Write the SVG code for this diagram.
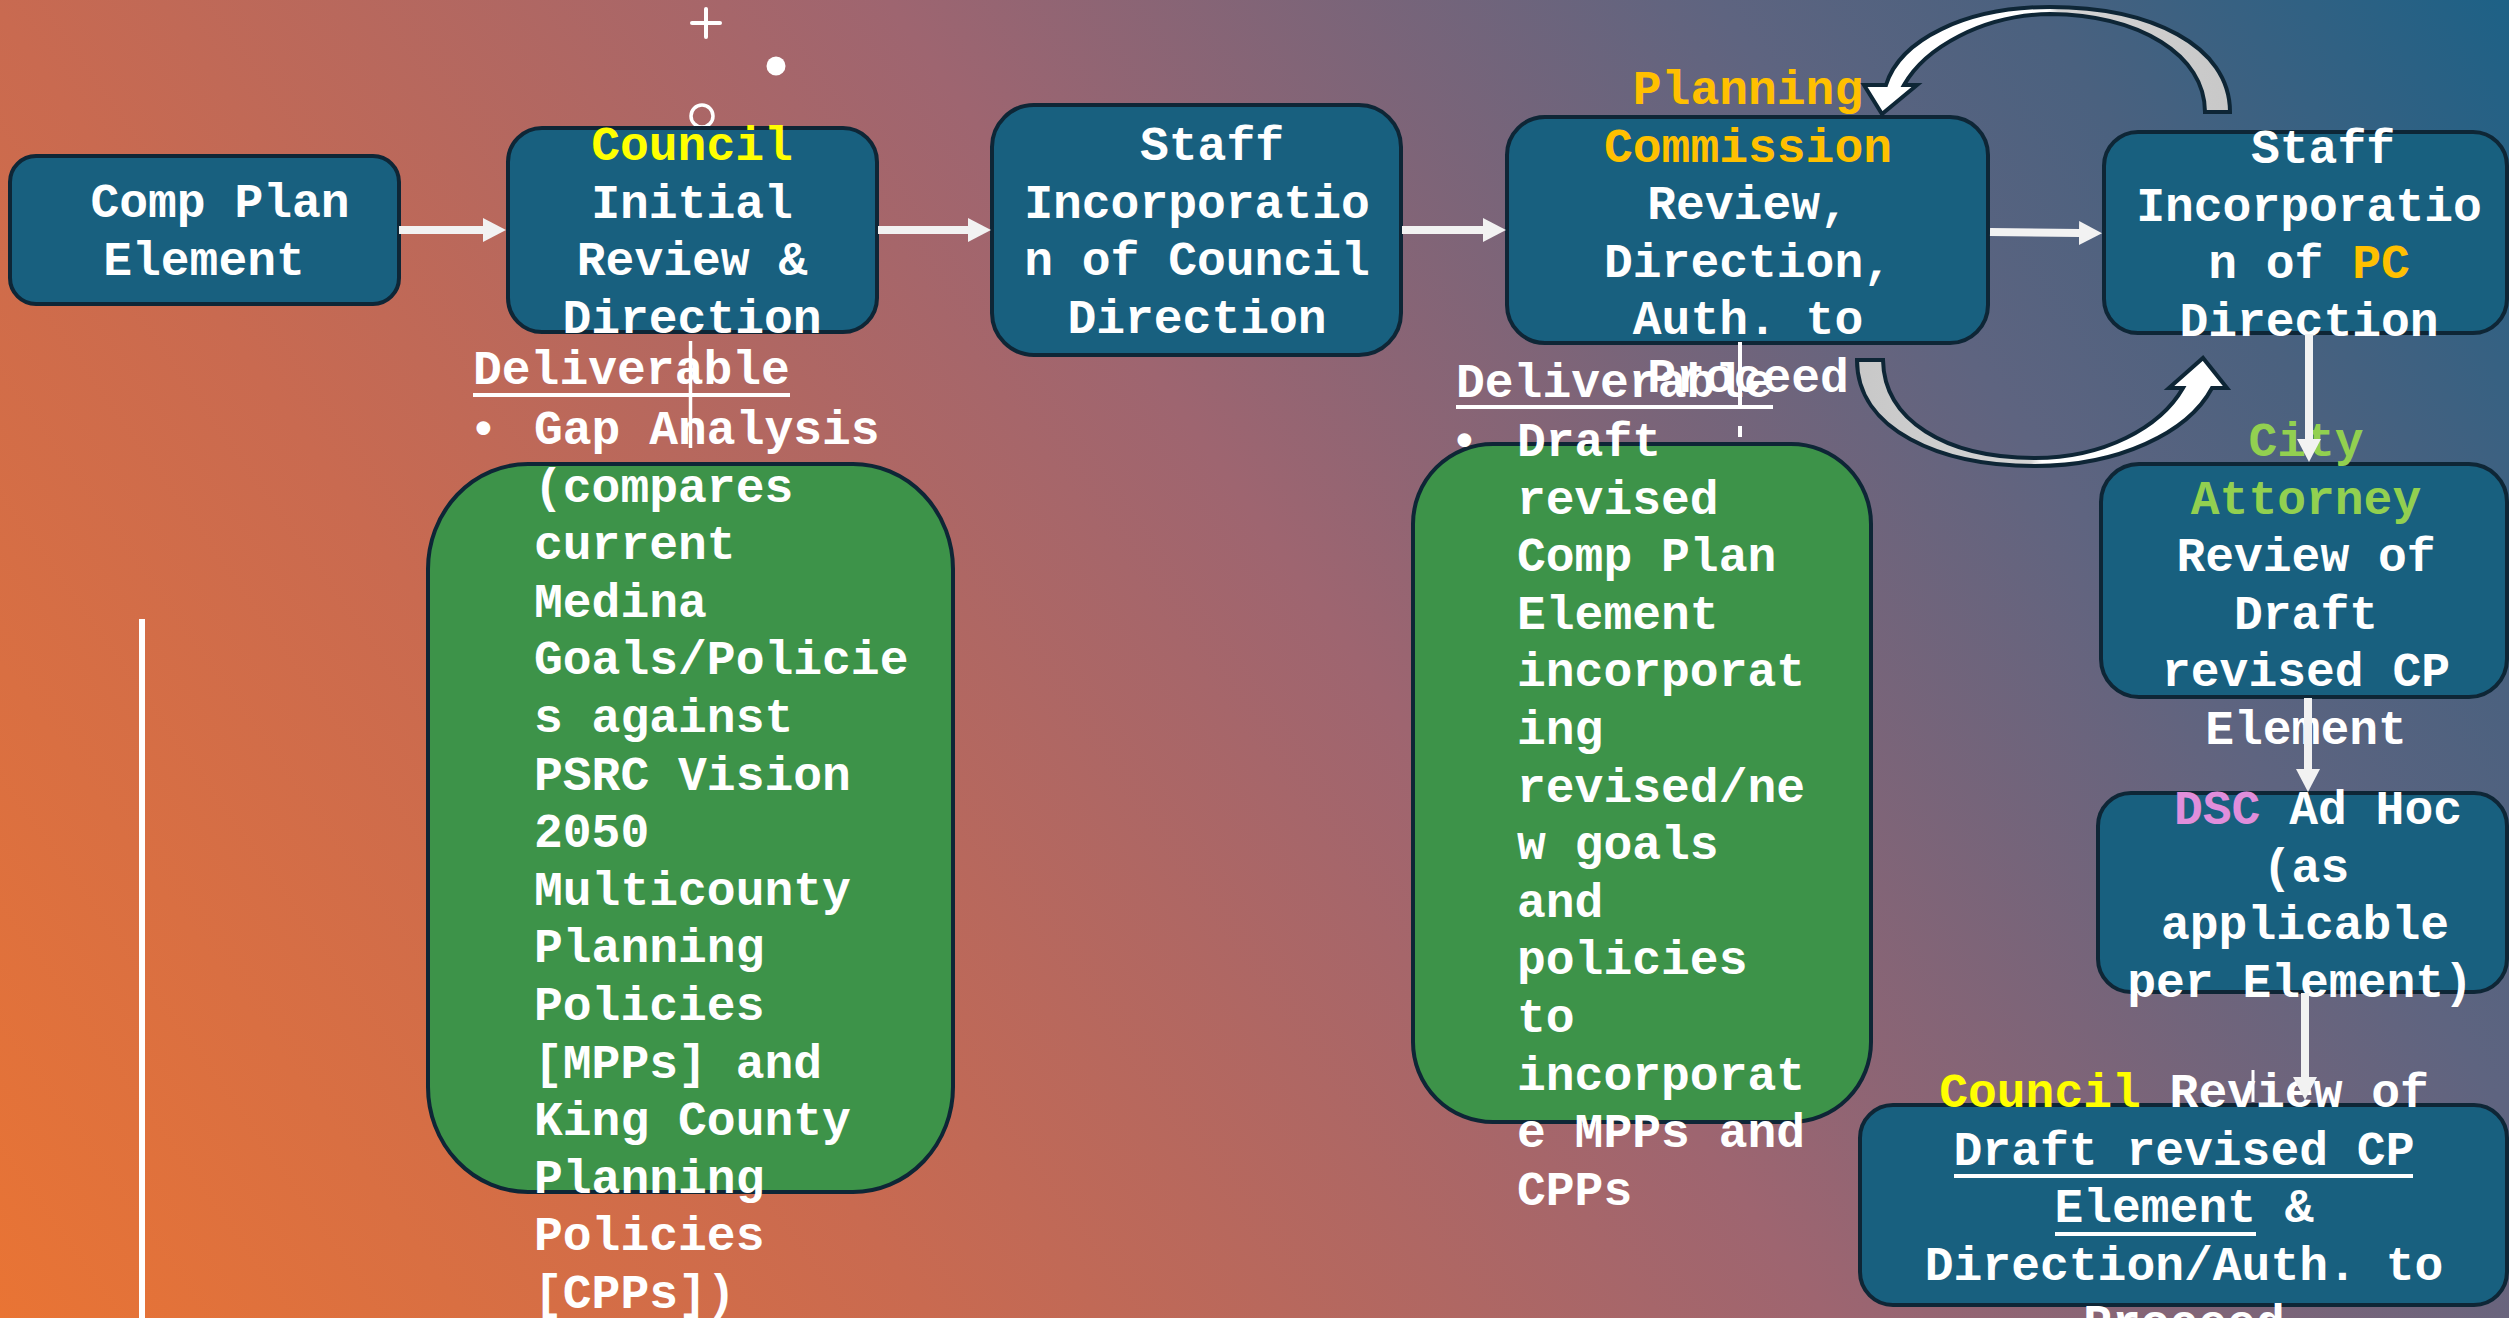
<svg xmlns="http://www.w3.org/2000/svg" width="2509" height="1318" viewBox="0 0 2509 1318">
<defs>
<linearGradient id="bg" gradientUnits="userSpaceOnUse" x1="0" y1="1318" x2="2286" y2="-312">
 <stop offset="0" stop-color="#E97434"/>
 <stop offset="0.27" stop-color="#C96A50"/>
 <stop offset="0.53" stop-color="#9E6570"/>
 <stop offset="0.77" stop-color="#5E6480"/>
 <stop offset="0.86" stop-color="#4A617F"/>
 <stop offset="1" stop-color="#1D6186"/>
</linearGradient>
<linearGradient id="arcTop" x1="0" y1="0" x2="1" y2="0">
 <stop offset="0" stop-color="#FFFFFF"/>
 <stop offset="0.5" stop-color="#FFFFFF"/>
 <stop offset="0.53" stop-color="#D4D4D4"/>
 <stop offset="1" stop-color="#C8C8C8"/>
</linearGradient>
<linearGradient id="arcBot" x1="0" y1="0" x2="1" y2="0">
 <stop offset="0" stop-color="#C8C8C8"/>
 <stop offset="0.47" stop-color="#D4D4D4"/>
 <stop offset="0.5" stop-color="#FFFFFF"/>
 <stop offset="1" stop-color="#FFFFFF"/>
</linearGradient>
<marker id="ah" markerUnits="userSpaceOnUse" markerWidth="24" markerHeight="24" refX="1" refY="12" orient="auto" viewBox="0 0 24 24">
 <path d="M0,0 L23,12 L0,24 Z" fill="#F2F2F2"/>
</marker>
<style>
.box{fill:#18607F;stroke:#0E2636;stroke-width:4}
.grn{fill:#3D9349;stroke:#0E2636;stroke-width:4}
.t{font-family:"Liberation Mono","Courier New",monospace;font-size:48px;font-weight:bold;fill:#FFFFFF}
.c{text-anchor:middle}
.yel{fill:#FFFF00}
.org{fill:#FFC000}
.gt{fill:#92D050}
.pnk{fill:#E08EDB}
.ul{stroke:#FFFFFF;stroke-width:4}
.conn{stroke:#F2F2F2;stroke-width:8;fill:none;marker-end:url(#ah)}
.arc{stroke:#0E2636;stroke-width:4;stroke-linejoin:miter}
.deco{stroke:#FFFFFF;fill:none}
</style>
</defs>
<rect x="0" y="0" width="2509" height="1318" fill="url(#bg)"/>

<g id="decorations">
 <rect x="139" y="619" width="6" height="699" fill="#FFFFFF"/>
 <line class="deco" x1="692" y1="23" x2="720" y2="23" stroke-width="4" stroke-linecap="round"/>
 <line class="deco" x1="706" y1="9" x2="706" y2="37" stroke-width="4" stroke-linecap="round"/>
 <circle cx="776" cy="66" r="9.5" fill="#FFFFFF"/>
 <circle class="deco" cx="702" cy="116" r="11" stroke-width="3.5"/>
</g>

<g id="node-comp-plan-element">
 <rect class="box" x="10" y="156" width="389" height="148" rx="26"/>
 <text class="t c" x="220" y="217">Comp Plan</text>
 <text class="t c" x="204" y="275">Element</text>
</g>

<g id="node-council-initial-review">
 <rect class="box" x="508" y="128" width="369" height="204" rx="34"/>
 <text class="t c" x="692" y="160"><tspan class="yel">Council</tspan></text>
 <text class="t c" x="692" y="217.6">Initial</text>
 <text class="t c" x="692" y="275.2">Review &amp;</text>
 <text class="t c" x="692" y="332.8">Direction</text>
</g>

<g id="node-staff-council-direction">
 <rect class="box" x="992" y="105" width="409" height="250" rx="42"/>
 <text class="t c" x="1212" y="160">Staff</text>
 <text class="t c" x="1197" y="217.6">Incorporatio</text>
 <text class="t c" x="1197" y="275.2">n of Council</text>
 <text class="t c" x="1197" y="332.8">Direction</text>
</g>

<g id="node-planning-commission">
 <rect class="box" x="1507" y="117" width="481" height="226" rx="38"/>
 <text class="t c org" x="1748" y="104">Planning</text>
 <text class="t c org" x="1748" y="161.6">Commission</text>
 <text class="t c" x="1748" y="219.2">Review,</text>
 <text class="t c" x="1748" y="276.8">Direction,</text>
 <text class="t c" x="1748" y="334.4">Auth. to</text>
 <text class="t c" x="1748" y="392">Proceed</text>
</g>

<g id="node-staff-pc-direction">
 <rect class="box" x="2104" y="132" width="403" height="201" rx="34"/>
 <text class="t c" x="2323" y="163">Staff</text>
 <text class="t c" x="2309" y="220.6">Incorporatio</text>
 <text class="t c" x="2309" y="278.2">n of <tspan class="org">PC</tspan></text>
 <text class="t c" x="2309" y="335.8">Direction</text>
</g>

<g id="node-city-attorney">
 <rect class="box" x="2101" y="464" width="406" height="233" rx="38"/>
 <text class="t c gt" x="2306" y="456">City</text>
 <text class="t c gt" x="2306" y="513.6">Attorney</text>
 <text class="t c" x="2306" y="571.2">Review of</text>
 <text class="t c" x="2306" y="628.8">Draft</text>
 <text class="t c" x="2306" y="686.4">revised CP</text>
 <text class="t c" x="2306" y="744">Element</text>
</g>

<g id="node-dsc-ad-hoc">
 <rect class="box" x="2098" y="793" width="409" height="199" rx="33"/>
 <text class="t c" x="2318" y="824"><tspan class="pnk">DSC</tspan> Ad Hoc</text>
 <text class="t c" x="2306" y="881.6">(as</text>
 <text class="t c" x="2305" y="939.2">applicable</text>
 <text class="t c" x="2300" y="996.8">per Element)</text>
</g>

<g id="node-council-review">
 <rect class="box" x="1860" y="1105" width="647" height="200" rx="33"/>
 <text class="t c" x="2184" y="1107"><tspan class="yel">Council</tspan> Review of</text>
 <text class="t c" x="2184" y="1165">Draft revised CP</text>
 <line class="ul" x1="1954" y1="1176" x2="2413" y2="1176"/>
 <text class="t c" x="2184" y="1222">Element &amp;</text>
 <line class="ul" x1="2055" y1="1234" x2="2256" y2="1234"/>
 <text class="t c" x="2184" y="1280">Direction/Auth. to</text>
 <text class="t c" x="2184" y="1338">Proceed</text>
</g>

<g id="deliverable-gap-analysis">
 <rect class="grn" x="428" y="464" width="525" height="728" rx="100" ry="105"/>
 <text class="t" x="473" y="384">Deliverable</text>
 <line class="ul" x1="473" y1="395" x2="790" y2="395"/>
 <text class="t" x="469" y="444">•</text>
 <text class="t" x="534" y="444">Gap Analysis<tspan x="534" dy="57.6">(compares</tspan><tspan x="534" dy="57.6">current</tspan><tspan x="534" dy="57.6">Medina</tspan><tspan x="534" dy="57.6">Goals/Policie</tspan><tspan x="534" dy="57.6">s against</tspan><tspan x="534" dy="57.6">PSRC Vision</tspan><tspan x="534" dy="57.6">2050</tspan><tspan x="534" dy="57.6">Multicounty</tspan><tspan x="534" dy="57.6">Planning</tspan><tspan x="534" dy="57.6">Policies</tspan><tspan x="534" dy="57.6">[MPPs] and</tspan><tspan x="534" dy="57.6">King County</tspan><tspan x="534" dy="57.6">Planning</tspan><tspan x="534" dy="57.6">Policies</tspan><tspan x="534" dy="57.6">[CPPs])</tspan></text>
</g>

<g id="deliverable-draft-element">
 <rect class="grn" x="1413" y="444" width="458" height="678" rx="80"/>
 <text class="t" x="1456" y="397">Deliverable</text>
 <line class="ul" x1="1456" y1="407" x2="1773" y2="407"/>
 <text class="t" x="1450" y="456">•</text>
 <text class="t" x="1517" y="456">Draft<tspan x="1517" dy="57.6">revised</tspan><tspan x="1517" dy="57.6">Comp Plan</tspan><tspan x="1517" dy="57.6">Element</tspan><tspan x="1517" dy="57.6">incorporat</tspan><tspan x="1517" dy="57.6">ing</tspan><tspan x="1517" dy="57.6">revised/ne</tspan><tspan x="1517" dy="57.6">w goals</tspan><tspan x="1517" dy="57.6">and</tspan><tspan x="1517" dy="57.6">policies</tspan><tspan x="1517" dy="57.6">to</tspan><tspan x="1517" dy="57.6">incorporat</tspan><tspan x="1517" dy="57.6">e MPPs and</tspan><tspan x="1517" dy="57.6">CPPs</tspan></text>
</g>

<g id="connectors">
 <line class="conn" x1="399" y1="230" x2="484" y2="230"/>
 <line class="conn" x1="878" y1="230" x2="969" y2="230"/>
 <line class="conn" x1="1402" y1="230" x2="1484" y2="230"/>
 <line class="conn" x1="1990" y1="232" x2="2080" y2="233"/>
 <line class="conn" x1="2309" y1="334" x2="2309" y2="440"/>
 <line class="conn" x1="2308" y1="698" x2="2308" y2="770"/>
 <line class="conn" x1="2305" y1="993" x2="2305" y2="1078"/>
 <path class="arc" fill="url(#arcTop)" d="M 2230 112 C 2230 45, 2150 7, 2050 7 C 1965 7, 1900 40, 1886 85 L 1864 85 L 1882 114 L 1917 85 L 1904 85 C 1925 48, 1982 15, 2050 14 C 2140 15, 2205 55, 2205 112 Z"/>
 <path class="arc" fill="url(#arcBot)" d="M 1857 360 C 1857 430, 1940 466, 2035 466 C 2118 466, 2188 433, 2212 388 L 2227 388 L 2203 358 L 2169 388 L 2183 388 C 2160 428, 2103 458, 2035 458 C 1945 458, 1884 420, 1883 360 Z"/>
</g>

<g id="guide-marks">
 <line class="deco" x1="690.5" y1="341" x2="690.5" y2="448" stroke-width="3.5"/>
 <line class="deco" x1="1740" y1="342" x2="1740" y2="407" stroke-width="4"/>
 <line class="deco" x1="1740" y1="426" x2="1740" y2="437" stroke-width="4"/>
 <line class="deco" x1="2253" y1="1070" x2="2253" y2="1102" stroke-width="3"/>
</g>
</svg>
